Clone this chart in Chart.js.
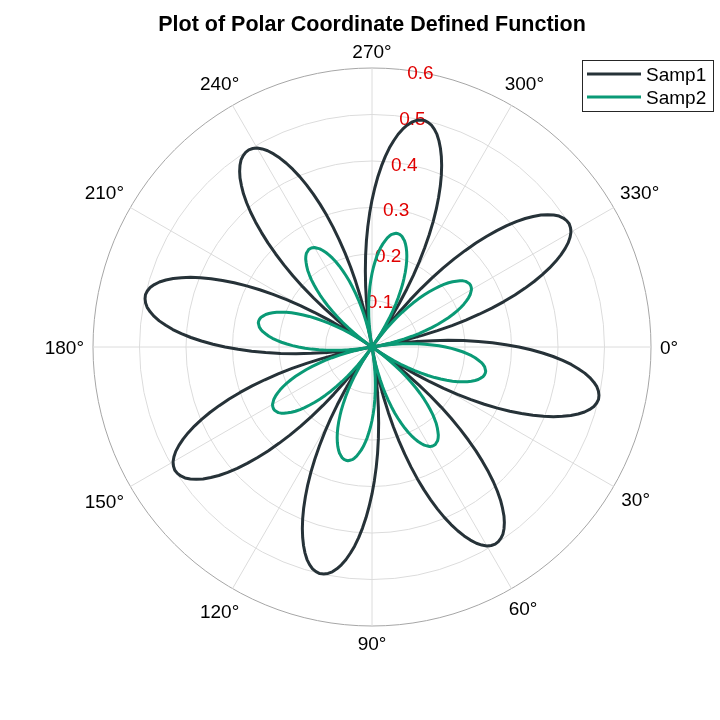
<!DOCTYPE html>
<html><head><meta charset="utf-8">
<script src="https://cdn.jsdelivr.net/npm/chart.js@4.4.1/dist/chart.umd.min.js"></script>
<style>html,body{margin:0;padding:0;background:#fff;} #wrap{width:720px;height:720px;position:relative;}</style>
</head><body><div id="wrap"><canvas id="c" width="720" height="720"></canvas></div>
<script>
// angle categories (degrees, clockwise from the right)
const thetaDeg = [
0,1,2,3,4,5,6,7,8,9,10,11,12,13,14,15,16,17,18,19,20,21,22,23,24,25,26,27,28,29,
30,31,32,33,34,35,36,37,38,39,40,41,42,43,44,45,46,47,48,49,50,51,52,53,54,55,56,57,58,59,
60,61,62,63,64,65,66,67,68,69,70,71,72,73,74,75,76,77,78,79,80,81,82,83,84,85,86,87,88,89,
90,91,92,93,94,95,96,97,98,99,100,101,102,103,104,105,106,107,108,109,110,111,112,113,114,115,116,117,118,119,
120,121,122,123,124,125,126,127,128,129,130,131,132,133,134,135,136,137,138,139,140,141,142,143,144,145,146,147,148,149,
150,151,152,153,154,155,156,157,158,159,160,161,162,163,164,165,166,167,168,169,170,171,172,173,174,175,176,177,178,179,
180,181,182,183,184,185,186,187,188,189,190,191,192,193,194,195,196,197,198,199,200,201,202,203,204,205,206,207,208,209,
210,211,212,213,214,215,216,217,218,219,220,221,222,223,224,225,226,227,228,229,230,231,232,233,234,235,236,237,238,239,
240,241,242,243,244,245,246,247,248,249,250,251,252,253,254,255,256,257,258,259,260,261,262,263,264,265,266,267,268,269,
270,271,272,273,274,275,276,277,278,279,280,281,282,283,284,285,286,287,288,289,290,291,292,293,294,295,296,297,298,299,
300,301,302,303,304,305,306,307,308,309,310,311,312,313,314,315,316,317,318,319,320,321,322,323,324,325,326,327,328,329,
330,331,332,333,334,335,336,337,338,339,340,341,342,343,344,345,346,347,348,349,350,351,352,353,354,355,356,357,358,359
];

// radius of Samp1 at each angle
const samp1 = [
0.316,0.342,0.367,0.390,0.411,0.430,0.446,0.461,0.473,0.483,0.491,0.496,0.499,0.500,0.498,0.494,0.487,0.478,0.466,0.452,0.436,0.418,0.398,0.376,0.352,0.327,0.300,0.271,0.241,0.210,0.178,0.145,0.111,0.077,0.042,0.007,0.028,0.063,0.097,0.131,0.164,0.197,0.229,0.259,0.288,
0.316,0.342,0.367,0.390,0.411,0.430,0.446,0.461,0.473,0.483,0.491,0.496,0.499,0.500,0.498,0.494,0.487,0.478,0.466,0.452,0.436,0.418,0.398,0.376,0.352,0.327,0.300,0.271,0.241,0.210,0.178,0.145,0.111,0.077,0.042,0.007,0.028,0.063,0.097,0.131,0.164,0.197,0.229,0.259,0.288,
0.316,0.342,0.367,0.390,0.411,0.430,0.446,0.461,0.473,0.483,0.491,0.496,0.499,0.500,0.498,0.494,0.487,0.478,0.466,0.452,0.436,0.418,0.398,0.376,0.352,0.327,0.300,0.271,0.241,0.210,0.178,0.145,0.111,0.077,0.042,0.007,0.028,0.063,0.097,0.131,0.164,0.197,0.229,0.259,0.288,
0.316,0.342,0.367,0.390,0.411,0.430,0.446,0.461,0.473,0.483,0.491,0.496,0.499,0.500,0.498,0.494,0.487,0.478,0.466,0.452,0.436,0.418,0.398,0.376,0.352,0.327,0.300,0.271,0.241,0.210,0.178,0.145,0.111,0.077,0.042,0.007,0.028,0.063,0.097,0.131,0.164,0.197,0.229,0.259,0.288,
0.316,0.342,0.367,0.390,0.411,0.430,0.446,0.461,0.473,0.483,0.491,0.496,0.499,0.500,0.498,0.494,0.487,0.478,0.466,0.452,0.436,0.418,0.398,0.376,0.352,0.327,0.300,0.271,0.241,0.210,0.178,0.145,0.111,0.077,0.042,0.007,0.028,0.063,0.097,0.131,0.164,0.197,0.229,0.259,0.288,
0.316,0.342,0.367,0.390,0.411,0.430,0.446,0.461,0.473,0.483,0.491,0.496,0.499,0.500,0.498,0.494,0.487,0.478,0.466,0.452,0.436,0.418,0.398,0.376,0.352,0.327,0.300,0.271,0.241,0.210,0.178,0.145,0.111,0.077,0.042,0.007,0.028,0.063,0.097,0.131,0.164,0.197,0.229,0.259,0.288,
0.316,0.342,0.367,0.390,0.411,0.430,0.446,0.461,0.473,0.483,0.491,0.496,0.499,0.500,0.498,0.494,0.487,0.478,0.466,0.452,0.436,0.418,0.398,0.376,0.352,0.327,0.300,0.271,0.241,0.210,0.178,0.145,0.111,0.077,0.042,0.007,0.028,0.063,0.097,0.131,0.164,0.197,0.229,0.259,0.288,
0.316,0.342,0.367,0.390,0.411,0.430,0.446,0.461,0.473,0.483,0.491,0.496,0.499,0.500,0.498,0.494,0.487,0.478,0.466,0.452,0.436,0.418,0.398,0.376,0.352,0.327,0.300,0.271,0.241,0.210,0.178,0.145,0.111,0.077,0.042,0.007,0.028,0.063,0.097,0.131,0.164,0.197,0.229,0.259,0.288
];

// radius of Samp2 at each angle
const samp2 = [
0.158,0.171,0.183,0.195,0.205,0.215,0.223,0.230,0.237,0.242,0.246,0.248,0.250,0.250,0.249,0.247,0.243,0.239,0.233,0.226,0.218,0.209,0.199,0.188,0.176,0.163,0.150,0.135,0.120,0.105,0.089,0.072,0.055,0.038,0.021,0.003,0.014,0.031,0.049,0.066,0.082,0.099,0.114,0.130,0.144,
0.158,0.171,0.183,0.195,0.205,0.215,0.223,0.230,0.237,0.242,0.246,0.248,0.250,0.250,0.249,0.247,0.243,0.239,0.233,0.226,0.218,0.209,0.199,0.188,0.176,0.163,0.150,0.135,0.120,0.105,0.089,0.072,0.055,0.038,0.021,0.003,0.014,0.031,0.049,0.066,0.082,0.099,0.114,0.130,0.144,
0.158,0.171,0.183,0.195,0.205,0.215,0.223,0.230,0.237,0.242,0.246,0.248,0.250,0.250,0.249,0.247,0.243,0.239,0.233,0.226,0.218,0.209,0.199,0.188,0.176,0.163,0.150,0.135,0.120,0.105,0.089,0.072,0.055,0.038,0.021,0.003,0.014,0.031,0.049,0.066,0.082,0.099,0.114,0.130,0.144,
0.158,0.171,0.183,0.195,0.205,0.215,0.223,0.230,0.237,0.242,0.246,0.248,0.250,0.250,0.249,0.247,0.243,0.239,0.233,0.226,0.218,0.209,0.199,0.188,0.176,0.163,0.150,0.135,0.120,0.105,0.089,0.072,0.055,0.038,0.021,0.003,0.014,0.031,0.049,0.066,0.082,0.099,0.114,0.130,0.144,
0.158,0.171,0.183,0.195,0.205,0.215,0.223,0.230,0.237,0.242,0.246,0.248,0.250,0.250,0.249,0.247,0.243,0.239,0.233,0.226,0.218,0.209,0.199,0.188,0.176,0.163,0.150,0.135,0.120,0.105,0.089,0.072,0.055,0.038,0.021,0.003,0.014,0.031,0.049,0.066,0.082,0.099,0.114,0.130,0.144,
0.158,0.171,0.183,0.195,0.205,0.215,0.223,0.230,0.237,0.242,0.246,0.248,0.250,0.250,0.249,0.247,0.243,0.239,0.233,0.226,0.218,0.209,0.199,0.188,0.176,0.163,0.150,0.135,0.120,0.105,0.089,0.072,0.055,0.038,0.021,0.003,0.014,0.031,0.049,0.066,0.082,0.099,0.114,0.130,0.144,
0.158,0.171,0.183,0.195,0.205,0.215,0.223,0.230,0.237,0.242,0.246,0.248,0.250,0.250,0.249,0.247,0.243,0.239,0.233,0.226,0.218,0.209,0.199,0.188,0.176,0.163,0.150,0.135,0.120,0.105,0.089,0.072,0.055,0.038,0.021,0.003,0.014,0.031,0.049,0.066,0.082,0.099,0.114,0.130,0.144,
0.158,0.171,0.183,0.195,0.205,0.215,0.223,0.230,0.237,0.242,0.246,0.248,0.250,0.250,0.249,0.247,0.243,0.239,0.233,0.226,0.218,0.209,0.199,0.188,0.176,0.163,0.150,0.135,0.120,0.105,0.089,0.072,0.055,0.038,0.021,0.003,0.014,0.031,0.049,0.066,0.082,0.099,0.114,0.130,0.144
];

const angleTickDeg = [0,30,60,90,120,150,180,210,240,270,300,330];
const angleTickLabels = ['0°','30°','60°','90°','120°','150°','180°','210°','240°','270°','300°','330°'];
const radialTicks = [0.1,0.2,0.3,0.4,0.5,0.6];
const radialTickLabels = ['0.1','0.2','0.3','0.4','0.5','0.6'];
const radialLabelAngle = 280;
const seriesNames = ['Samp1','Samp2'];
const seriesColors = ['#263238','#0a9a76'];
const titleText = 'Plot of Polar Coordinate Defined Function';

const FONT = "'Liberation Sans', Arial, Helvetica, sans-serif";

const labelsPlugin = {
  id: 'polarLabels',
  beforeDatasetsDraw(chart) {
    const s = chart.scales.r, ctx = chart.ctx;
    const idx = thetaDeg.indexOf(radialLabelAngle);
    ctx.save();
    ctx.font = '19px ' + FONT;
    ctx.fillStyle = '#e00000';
    ctx.textAlign = 'center';
    ctx.textBaseline = 'alphabetic';
    radialTicks.forEach((v, i) => {
      const p = s.getPointPositionForValue(idx, v);
      ctx.fillText(radialTickLabels[i], p.x, p.y + 6.8);
    });
    ctx.restore();
  },
  afterDraw(chart) {
    const s = chart.scales.r, ctx = chart.ctx;
    ctx.save();
    ctx.font = '19px ' + FONT;
    ctx.fillStyle = '#000';
    ctx.textAlign = 'center';
    ctx.textBaseline = 'alphabetic';
    angleTickDeg.forEach((d, i) => {
      const idx = thetaDeg.indexOf(d);
      const a = s.getPointPosition(idx, 1).angle;
      const w = ctx.measureText(angleTickLabels[i]).width;
      const h = 16;
      const ext = Math.abs(Math.cos(a)) * w / 2 + Math.abs(Math.sin(a)) * h / 2;
      const p = s.getPointPosition(idx, s.drawingArea + 9 + ext);
      ctx.fillText(angleTickLabels[i], p.x, p.y + 6.8);
    });
    // legend
    const bx = 582, by = 60, bw = 132, bh = 52;
    ctx.fillStyle = '#fff';
    ctx.fillRect(bx, by, bw, bh);
    ctx.strokeStyle = '#262626';
    ctx.lineWidth = 1;
    ctx.strokeRect(bx + 0.5, by + 0.5, bw - 1, bh - 1);
    chart.data.datasets.forEach((ds, i) => {
      const y = by + 14 + i * 23;
      ctx.strokeStyle = ds.borderColor;
      ctx.lineWidth = 3;
      ctx.beginPath();
      ctx.moveTo(bx + 5, y);
      ctx.lineTo(bx + 59, y);
      ctx.stroke();
      ctx.fillStyle = '#000';
      ctx.textAlign = 'left';
      ctx.fillText(ds.label, bx + 64, y + 6.8);
    });
    ctx.restore();
  }
};

new Chart(document.getElementById('c'), {
  type: 'radar',
  data: {
    labels: thetaDeg,
    datasets: [
      { label: seriesNames[0], data: samp1, borderColor: seriesColors[0], borderWidth: 3, pointRadius: 0, fill: false, tension: 0, order: 2, borderJoinStyle: 'round' },
      { label: seriesNames[1], data: samp2, borderColor: seriesColors[1], borderWidth: 3, pointRadius: 0, fill: false, tension: 0, order: 1, borderJoinStyle: 'round' }
    ]
  },
  options: {
    responsive: false,
    animation: false,
    devicePixelRatio: 1,
    events: [],
    layout: { padding: { left: 93, right: 69, top: 0, bottom: 93 } },
    plugins: {
      legend: { display: false },
      tooltip: { enabled: false },
      title: {
        display: true, text: titleText, color: '#000',
        font: { family: FONT, size: 21.5, weight: 'bold', lineHeight: 1.2 },
        padding: { top: 12, bottom: 31 }
      }
    },
    scales: {
      r: {
        min: 0, max: 0.6, startAngle: 90,
        ticks: { display: false, stepSize: 0.1 },
        pointLabels: { display: false },
        grid: {
          circular: true, lineWidth: 1,
          color: c => (c.tick && c.tick.value > 0.59) ? '#a6a6a6' : '#dcdcdc'
        },
        angleLines: {
          display: true, color: '#dcdcdc',
          lineWidth: c => (thetaDeg[c.index] % 30 === 0) ? 1 : 0
        }
      }
    }
  },
  plugins: [labelsPlugin]
});
</script>
</body></html>
